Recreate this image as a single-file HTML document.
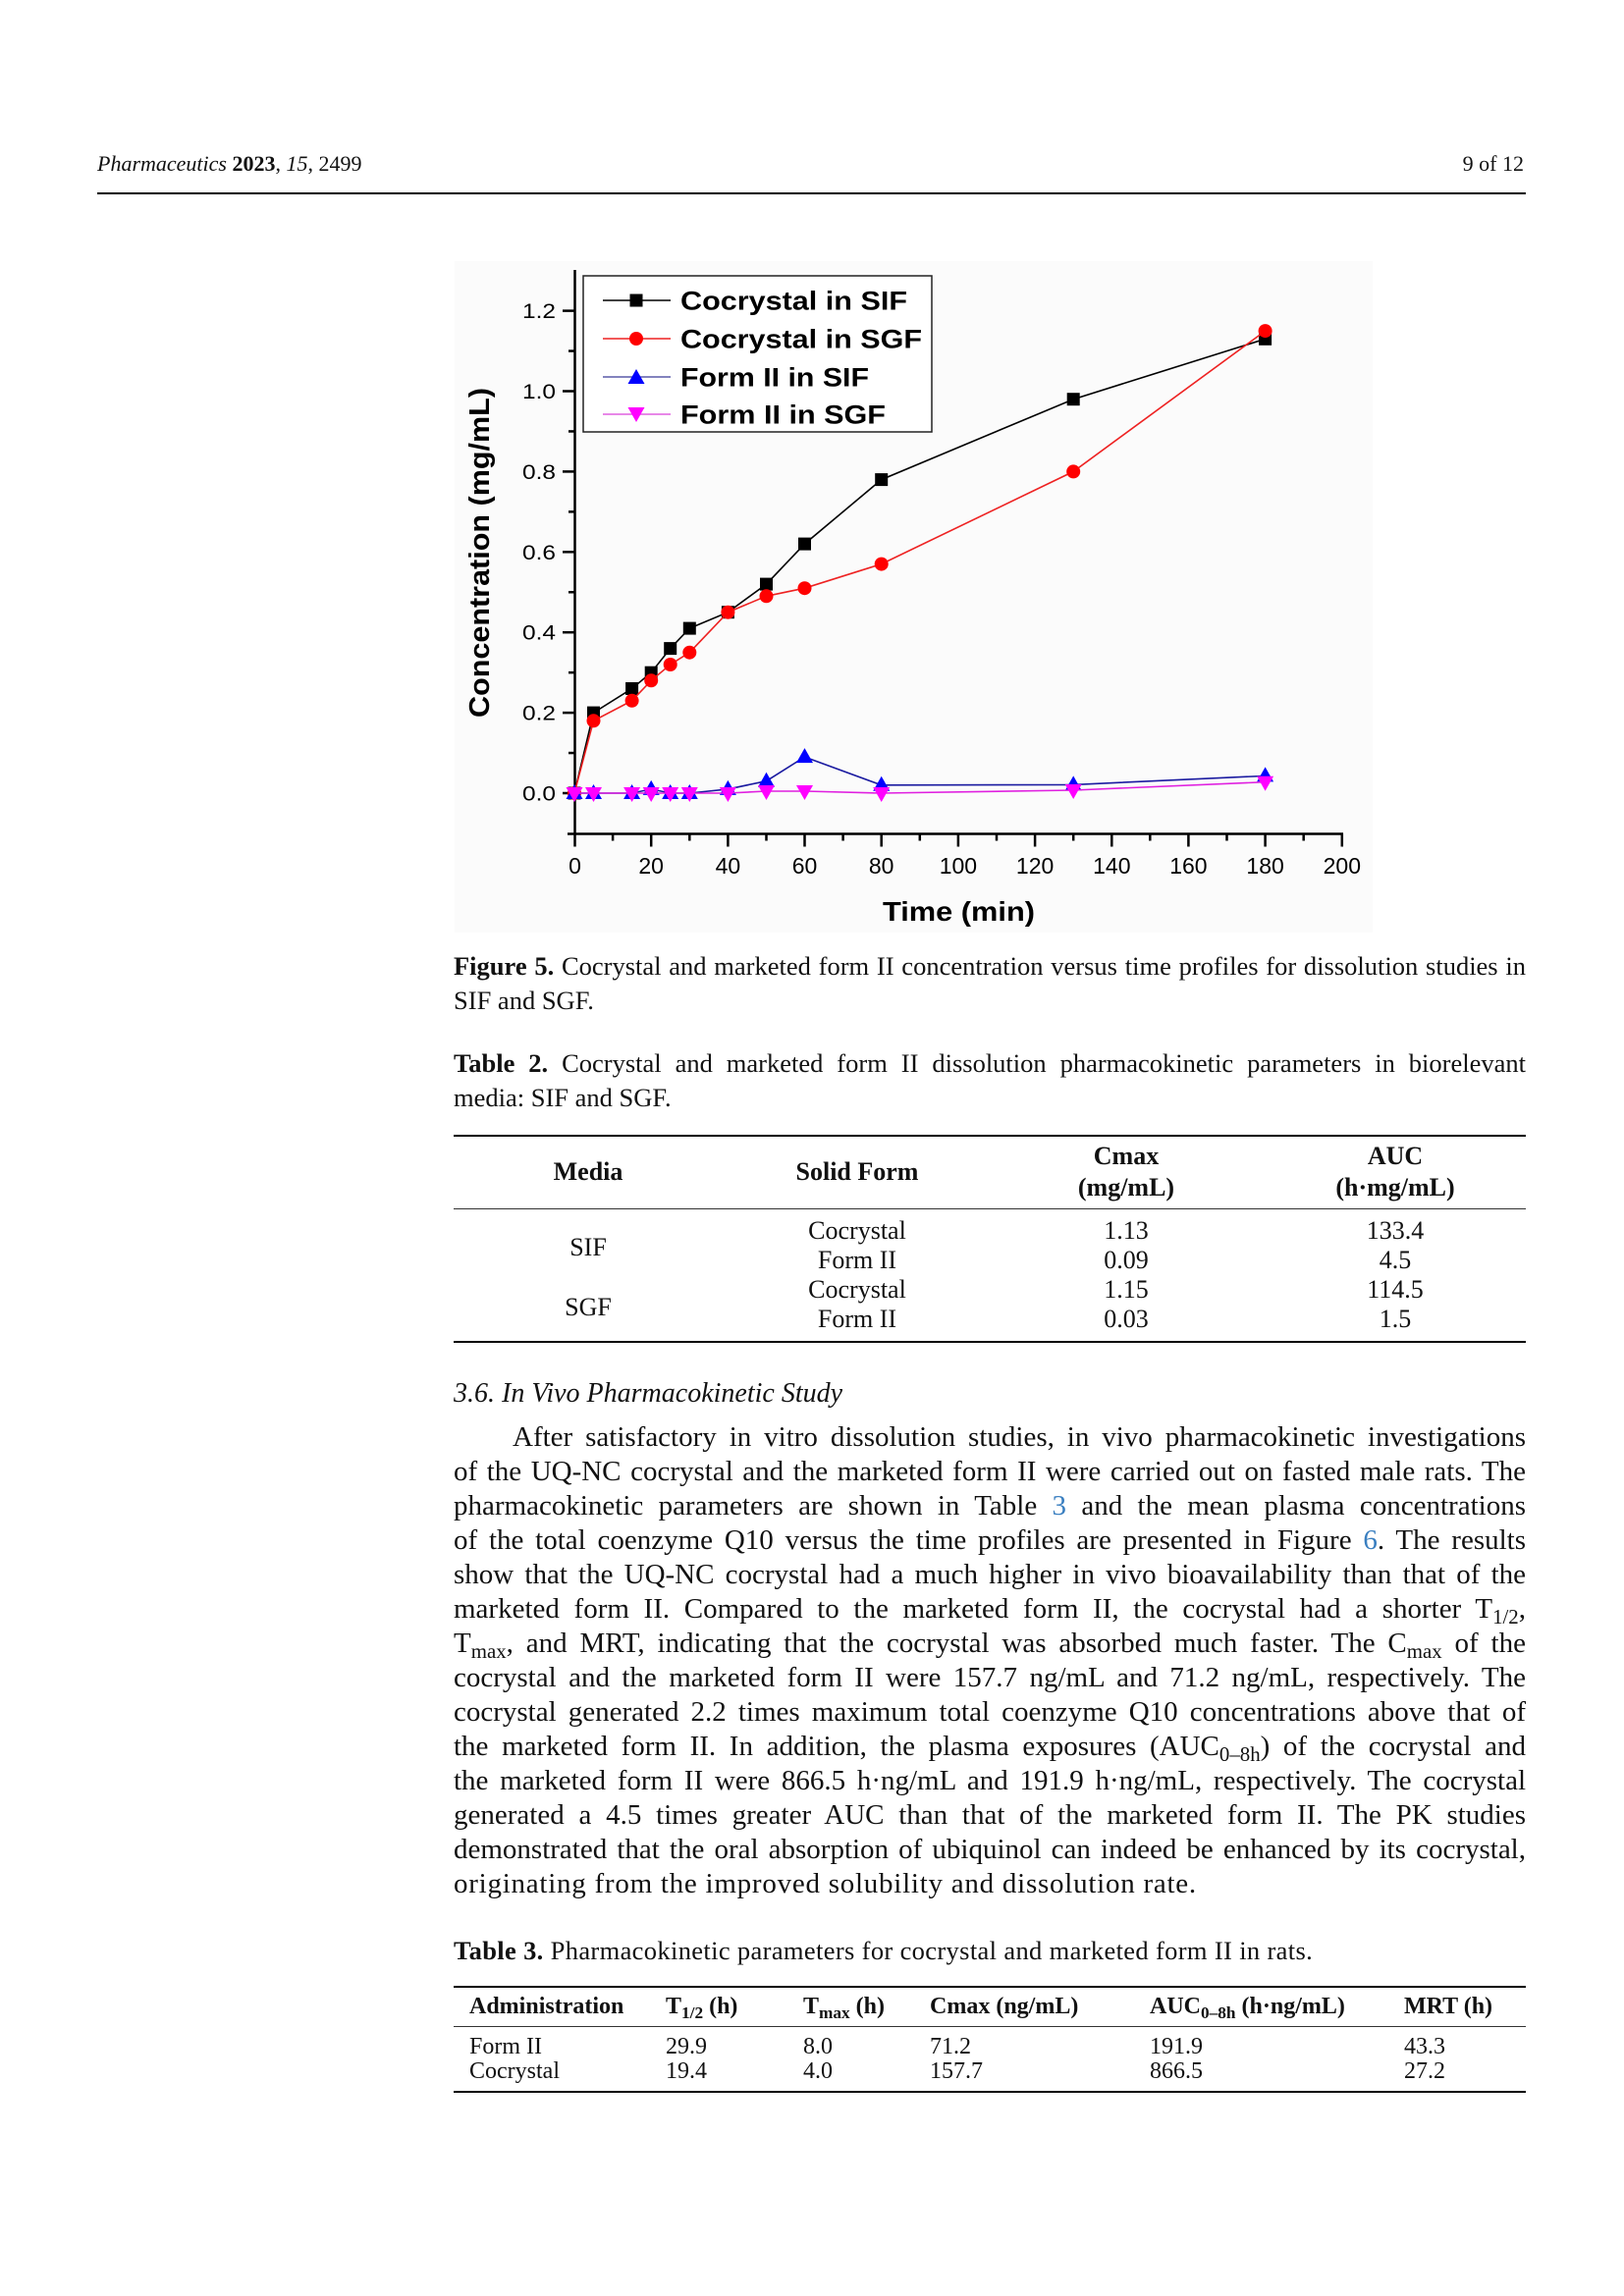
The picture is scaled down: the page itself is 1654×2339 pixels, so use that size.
<!DOCTYPE html>
<html><head><meta charset="utf-8">
<style>
html,body{margin:0;padding:0;background:#fff;}
body{width:1654px;height:2339px;position:relative;overflow:hidden;font-family:"Liberation Serif",serif;color:#111;}
.a{position:absolute;white-space:nowrap;line-height:1;}
.j{position:absolute;line-height:1;text-align:justify;text-align-last:justify;}
.c{position:absolute;white-space:nowrap;line-height:1;text-align:center;width:300px;}
.r{position:absolute;background:#000;}
sub{font-size:0.72em;vertical-align:baseline;position:relative;top:0.3em;line-height:0;}
.lk{color:#3a7fc0;}
.p{font-size:29px;width:1092px;left:462px;}
svg text{font-family:"Liberation Sans",Arial,sans-serif;fill:#000;}
</style></head><body>

<!-- Header -->
<div class="a" style="left:99px;top:156px;font-size:22px"><i>Pharmaceutics</i> <b>2023</b>, <i>15</i>, 2499</div>
<div class="a" style="right:102px;top:156px;font-size:22px">9 of 12</div>
<div class="r" style="left:99px;top:196px;width:1455px;height:2px"></div>

<!-- Chart -->
<svg style="position:absolute;left:0;top:0" width="1654" height="1000" viewBox="0 0 1654 1000">
<defs>
<rect id="sq" x="-6.5" y="-6.5" width="13" height="13" fill="#000"/>
<circle id="ci" cx="0" cy="0" r="7" fill="#ff0000"/>
<polygon id="tu" points="0,-9 8.5,6 -8.5,6" fill="#0000ff"/>
<polygon id="td" points="0,9 8.5,-6 -8.5,-6" fill="#ff00ff"/>
</defs>
<rect x="463" y="266" width="935" height="684" fill="#fbfbfb"/>

<g stroke="#000" stroke-width="2.5" fill="none">
<line x1="585.5" y1="275" x2="585.5" y2="850.5"/>
<line x1="578" y1="849.5" x2="1368" y2="849.5"/>
<line x1="573" y1="808" x2="586" y2="808"/>
<line x1="573" y1="726.1" x2="586" y2="726.1"/>
<line x1="573" y1="644.2" x2="586" y2="644.2"/>
<line x1="573" y1="562.3" x2="586" y2="562.3"/>
<line x1="573" y1="480.4" x2="586" y2="480.4"/>
<line x1="573" y1="398.5" x2="586" y2="398.5"/>
<line x1="573" y1="316.6" x2="586" y2="316.6"/>
<line x1="579" y1="767.05" x2="586" y2="767.05"/>
<line x1="579" y1="685.15" x2="586" y2="685.15"/>
<line x1="579" y1="603.25" x2="586" y2="603.25"/>
<line x1="579" y1="521.35" x2="586" y2="521.35"/>
<line x1="579" y1="439.45" x2="586" y2="439.45"/>
<line x1="579" y1="357.55" x2="586" y2="357.55"/>
<line x1="585.5" y1="849" x2="585.5" y2="862.5"/>
<line x1="663.2" y1="849" x2="663.2" y2="862.5"/>
<line x1="741.4" y1="849" x2="741.4" y2="862.5"/>
<line x1="819.5" y1="849" x2="819.5" y2="862.5"/>
<line x1="897.7" y1="849" x2="897.7" y2="862.5"/>
<line x1="975.9" y1="849" x2="975.9" y2="862.5"/>
<line x1="1054.1" y1="849" x2="1054.1" y2="862.5"/>
<line x1="1132.3" y1="849" x2="1132.3" y2="862.5"/>
<line x1="1210.4" y1="849" x2="1210.4" y2="862.5"/>
<line x1="1288.6" y1="849" x2="1288.6" y2="862.5"/>
<line x1="1366.8" y1="849" x2="1366.8" y2="862.5"/>
<line x1="624.1" y1="849" x2="624.1" y2="856.5"/>
<line x1="702.3" y1="849" x2="702.3" y2="856.5"/>
<line x1="780.5" y1="849" x2="780.5" y2="856.5"/>
<line x1="858.6" y1="849" x2="858.6" y2="856.5"/>
<line x1="936.8" y1="849" x2="936.8" y2="856.5"/>
<line x1="1015" y1="849" x2="1015" y2="856.5"/>
<line x1="1093.2" y1="849" x2="1093.2" y2="856.5"/>
<line x1="1171.3" y1="849" x2="1171.3" y2="856.5"/>
<line x1="1249.5" y1="849" x2="1249.5" y2="856.5"/>
<line x1="1327.7" y1="849" x2="1327.7" y2="856.5"/>
</g>

<g font-size="21">
<text x="532" y="815.5" textLength="34" lengthAdjust="spacingAndGlyphs">0.0</text>
<text x="532" y="733.6" textLength="34" lengthAdjust="spacingAndGlyphs">0.2</text>
<text x="532" y="651.7" textLength="34" lengthAdjust="spacingAndGlyphs">0.4</text>
<text x="532" y="569.8" textLength="34" lengthAdjust="spacingAndGlyphs">0.6</text>
<text x="532" y="487.9" textLength="34" lengthAdjust="spacingAndGlyphs">0.8</text>
<text x="532" y="406" textLength="34" lengthAdjust="spacingAndGlyphs">1.0</text>
<text x="532" y="324.1" textLength="34" lengthAdjust="spacingAndGlyphs">1.2</text>
</g>
<g font-size="23" text-anchor="middle">
<text x="585.5" y="890">0</text>
<text x="663.2" y="890">20</text>
<text x="741.4" y="890">40</text>
<text x="819.5" y="890">60</text>
<text x="897.7" y="890">80</text>
<text x="975.9" y="890">100</text>
<text x="1054.1" y="890">120</text>
<text x="1132.3" y="890">140</text>
<text x="1210.4" y="890">160</text>
<text x="1288.6" y="890">180</text>
<text x="1366.8" y="890">200</text>
</g>
<text x="899" y="938" font-size="28" font-weight="bold" textLength="155" lengthAdjust="spacingAndGlyphs">Time (min)</text>
<text transform="translate(498,731) rotate(-90)" font-size="29" font-weight="bold" textLength="336" lengthAdjust="spacingAndGlyphs">Concentration (mg/mL)</text>

<polyline fill="none" stroke="#000" stroke-width="1.6" points="585,808 604.5,726.1 643.6,701.5 663.2,685.2 682.7,660.6 702.3,640.1 741.4,623.7 780.5,595.1 819.5,554.1 897.7,488.6 1093.2,406.7 1288.6,345.3"/>
<use href="#sq" x="585" y="808"/><use href="#sq" x="604.5" y="726.1"/><use href="#sq" x="643.6" y="701.5"/><use href="#sq" x="663.2" y="685.2"/><use href="#sq" x="682.7" y="660.6"/><use href="#sq" x="702.3" y="640.1"/><use href="#sq" x="741.4" y="623.7"/><use href="#sq" x="780.5" y="595.1"/><use href="#sq" x="819.5" y="554.1"/><use href="#sq" x="897.7" y="488.6"/><use href="#sq" x="1093.2" y="406.7"/><use href="#sq" x="1288.6" y="345.3"/>
<polyline fill="none" stroke="#ee2222" stroke-width="1.6" points="585,808 604.5,734.3 643.6,713.8 663.2,693.3 682.7,677 702.3,664.7 741.4,623.7 780.5,607.3 819.5,599.2 897.7,574.6 1093.2,480.4 1288.6,337.1"/>
<use href="#ci" x="585" y="808"/><use href="#ci" x="604.5" y="734.3"/><use href="#ci" x="643.6" y="713.8"/><use href="#ci" x="663.2" y="693.3"/><use href="#ci" x="682.7" y="677"/><use href="#ci" x="702.3" y="664.7"/><use href="#ci" x="741.4" y="623.7"/><use href="#ci" x="780.5" y="607.3"/><use href="#ci" x="819.5" y="599.2"/><use href="#ci" x="897.7" y="574.6"/><use href="#ci" x="1093.2" y="480.4"/><use href="#ci" x="1288.6" y="337.1"/>
<polyline fill="none" stroke="#1a1aa0" stroke-width="1.6" points="585,808 604.5,808 643.6,808 663.2,803.9 682.7,808 702.3,808 741.4,803.9 780.5,795.7 819.5,771.1 897.7,799.8 1093.2,799.4 1288.6,790.4"/>
<use href="#tu" x="585" y="808"/><use href="#tu" x="604.5" y="808"/><use href="#tu" x="643.6" y="808"/><use href="#tu" x="663.2" y="803.9"/><use href="#tu" x="682.7" y="808"/><use href="#tu" x="702.3" y="808"/><use href="#tu" x="741.4" y="803.9"/><use href="#tu" x="780.5" y="795.7"/><use href="#tu" x="819.5" y="771.1"/><use href="#tu" x="897.7" y="799.8"/><use href="#tu" x="1093.2" y="799.4"/><use href="#tu" x="1288.6" y="790.4"/>
<polyline fill="none" stroke="#e020e0" stroke-width="1.6" points="585,808 604.5,808 643.6,808 663.2,808 682.7,808 702.3,808 741.4,808 780.5,806 819.5,806 897.7,808 1093.2,805 1288.6,796.7"/>
<use href="#td" x="585" y="808"/><use href="#td" x="604.5" y="808"/><use href="#td" x="643.6" y="808"/><use href="#td" x="663.2" y="808"/><use href="#td" x="682.7" y="808"/><use href="#td" x="702.3" y="808"/><use href="#td" x="741.4" y="808"/><use href="#td" x="780.5" y="806"/><use href="#td" x="819.5" y="806"/><use href="#td" x="897.7" y="808"/><use href="#td" x="1093.2" y="805"/><use href="#td" x="1288.6" y="796.7"/>

<rect x="594" y="281" width="355" height="159" fill="#fff" stroke="#222" stroke-width="1.5"/>
<line x1="614" y1="306" x2="683" y2="306" stroke="#000" stroke-width="1.6"/>
<use href="#sq" x="648" y="306"/>
<line x1="614" y1="345" x2="683" y2="345" stroke="#ee2222" stroke-width="1.6"/>
<use href="#ci" x="648" y="345"/>
<line x1="614" y1="384" x2="683" y2="384" stroke="#5a5aa8" stroke-width="1.6"/>
<use href="#tu" x="648" y="385"/>
<line x1="614" y1="422" x2="683" y2="422" stroke="#e060e0" stroke-width="1.6"/>
<use href="#td" x="648" y="421"/>
<g font-size="27" font-weight="bold">
<text x="693" y="315.5" textLength="231" lengthAdjust="spacingAndGlyphs">Cocrystal in SIF</text>
<text x="693" y="354.5" textLength="246" lengthAdjust="spacingAndGlyphs">Cocrystal in SGF</text>
<text x="693" y="393.5" textLength="192" lengthAdjust="spacingAndGlyphs">Form II in SIF</text>
<text x="693" y="431.5" textLength="209" lengthAdjust="spacingAndGlyphs">Form II in SGF</text>
</g>
</svg>

<!-- Figure caption -->
<div class="j" style="left:462px;top:971px;width:1092px;font-size:26.5px"><b>Figure 5.</b> Cocrystal and marketed form II concentration versus time profiles for dissolution studies in</div>
<div class="a" style="left:462px;top:1006px;font-size:26.5px">SIF and SGF.</div>

<!-- Table 2 caption -->
<div class="j" style="left:462px;top:1070px;width:1092px;font-size:26.5px"><b>Table 2.</b> Cocrystal and marketed form II dissolution pharmacokinetic parameters in biorelevant</div>
<div class="a" style="left:462px;top:1105px;font-size:26.5px">media: SIF and SGF.</div>

<!-- Table 2 -->
<div class="r" style="left:462px;top:1156px;width:1092px;height:2px"></div>
<div class="c" style="left:449px;top:1181px;font-size:26px;font-weight:bold">Media</div>
<div class="c" style="left:723px;top:1181px;font-size:26px;font-weight:bold">Solid Form</div>
<div class="c" style="left:997px;top:1165px;font-size:26px;font-weight:bold">Cmax</div>
<div class="c" style="left:997px;top:1197px;font-size:26px;font-weight:bold">(mg/mL)</div>
<div class="c" style="left:1271px;top:1165px;font-size:26px;font-weight:bold">AUC</div>
<div class="c" style="left:1271px;top:1197px;font-size:26px;font-weight:bold">(h·mg/mL)</div>
<div class="r" style="left:462px;top:1231px;width:1092px;height:1px;background:#333"></div>
<div class="c" style="left:449px;top:1258px;font-size:26px">SIF</div>
<div class="c" style="left:449px;top:1319px;font-size:26px">SGF</div>
<div class="c" style="left:723px;top:1241px;font-size:26px">Cocrystal</div>
<div class="c" style="left:723px;top:1271px;font-size:26px">Form II</div>
<div class="c" style="left:723px;top:1301px;font-size:26px">Cocrystal</div>
<div class="c" style="left:723px;top:1331px;font-size:26px">Form II</div>
<div class="c" style="left:997px;top:1241px;font-size:26px">1.13</div>
<div class="c" style="left:997px;top:1271px;font-size:26px">0.09</div>
<div class="c" style="left:997px;top:1301px;font-size:26px">1.15</div>
<div class="c" style="left:997px;top:1331px;font-size:26px">0.03</div>
<div class="c" style="left:1271px;top:1241px;font-size:26px">133.4</div>
<div class="c" style="left:1271px;top:1271px;font-size:26px">4.5</div>
<div class="c" style="left:1271px;top:1301px;font-size:26px">114.5</div>
<div class="c" style="left:1271px;top:1331px;font-size:26px">1.5</div>
<div class="r" style="left:462px;top:1366px;width:1092px;height:2px"></div>

<!-- Section heading -->
<div class="a" style="left:462px;top:1406px;font-size:28px;font-style:italic">3.6. In Vivo Pharmacokinetic Study</div>

<!-- Paragraph -->
<div class="j p" style="left:522px;width:1032px;top:1450px">After satisfactory in vitro dissolution studies, in vivo pharmacokinetic investigations</div>
<div class="j p" style="top:1485px">of the UQ-NC cocrystal and the marketed form II were carried out on fasted male rats. The</div>
<div class="j p" style="top:1520px">pharmacokinetic parameters are shown in Table <span class="lk">3</span> and the mean plasma concentrations</div>
<div class="j p" style="top:1555px">of the total coenzyme Q10 versus the time profiles are presented in Figure <span class="lk">6</span>. The results</div>
<div class="j p" style="top:1590px">show that the UQ-NC cocrystal had a much higher in vivo bioavailability than that of the</div>
<div class="j p" style="top:1625px">marketed form II. Compared to the marketed form II, the cocrystal had a shorter T<sub>1/2</sub>,</div>
<div class="j p" style="top:1660px">T<sub>max</sub>, and MRT, indicating that the cocrystal was absorbed much faster. The C<sub>max</sub> of the</div>
<div class="j p" style="top:1695px">cocrystal and the marketed form II were 157.7 ng/mL and 71.2 ng/mL, respectively. The</div>
<div class="j p" style="top:1730px">cocrystal generated 2.2 times maximum total coenzyme Q10 concentrations above that of</div>
<div class="j p" style="top:1765px">the marketed form II. In addition, the plasma exposures (AUC<sub>0–8h</sub>) of the cocrystal and</div>
<div class="j p" style="top:1800px">the marketed form II were 866.5 h·ng/mL and 191.9 h·ng/mL, respectively. The cocrystal</div>
<div class="j p" style="top:1835px">generated a 4.5 times greater AUC than that of the marketed form II. The PK studies</div>
<div class="j p" style="top:1870px">demonstrated that the oral absorption of ubiquinol can indeed be enhanced by its cocrystal,</div>
<div class="a" style="left:462px;top:1905px;font-size:29px;letter-spacing:0.75px">originating from the improved solubility and dissolution rate.</div>

<!-- Table 3 caption -->
<div class="a" style="left:462px;top:1974px;font-size:26.5px;letter-spacing:0.35px"><b>Table 3.</b> Pharmacokinetic parameters for cocrystal and marketed form II in rats.</div>

<!-- Table 3 -->
<div class="r" style="left:462px;top:2023px;width:1092px;height:2px"></div>
<div class="a" style="left:478px;top:2032px;font-size:24px;font-weight:bold">Administration</div>
<div class="a" style="left:678px;top:2032px;font-size:24px;font-weight:bold">T<sub>1/2</sub> (h)</div>
<div class="a" style="left:818px;top:2032px;font-size:24px;font-weight:bold">T<sub>max</sub> (h)</div>
<div class="a" style="left:947px;top:2032px;font-size:24px;font-weight:bold">Cmax (ng/mL)</div>
<div class="a" style="left:1171px;top:2032px;font-size:24px;font-weight:bold">AUC<sub>0–8h</sub> (h·ng/mL)</div>
<div class="a" style="left:1430px;top:2032px;font-size:24px;font-weight:bold">MRT (h)</div>
<div class="r" style="left:462px;top:2064px;width:1092px;height:1px;background:#333"></div>
<div class="a" style="left:478px;top:2073px;font-size:24px">Form II</div>
<div class="a" style="left:678px;top:2073px;font-size:24px">29.9</div>
<div class="a" style="left:818px;top:2073px;font-size:24px">8.0</div>
<div class="a" style="left:947px;top:2073px;font-size:24px">71.2</div>
<div class="a" style="left:1171px;top:2073px;font-size:24px">191.9</div>
<div class="a" style="left:1430px;top:2073px;font-size:24px">43.3</div>
<div class="a" style="left:478px;top:2098px;font-size:24px">Cocrystal</div>
<div class="a" style="left:678px;top:2098px;font-size:24px">19.4</div>
<div class="a" style="left:818px;top:2098px;font-size:24px">4.0</div>
<div class="a" style="left:947px;top:2098px;font-size:24px">157.7</div>
<div class="a" style="left:1171px;top:2098px;font-size:24px">866.5</div>
<div class="a" style="left:1430px;top:2098px;font-size:24px">27.2</div>
<div class="r" style="left:462px;top:2130px;width:1092px;height:2px"></div>

</body></html>
